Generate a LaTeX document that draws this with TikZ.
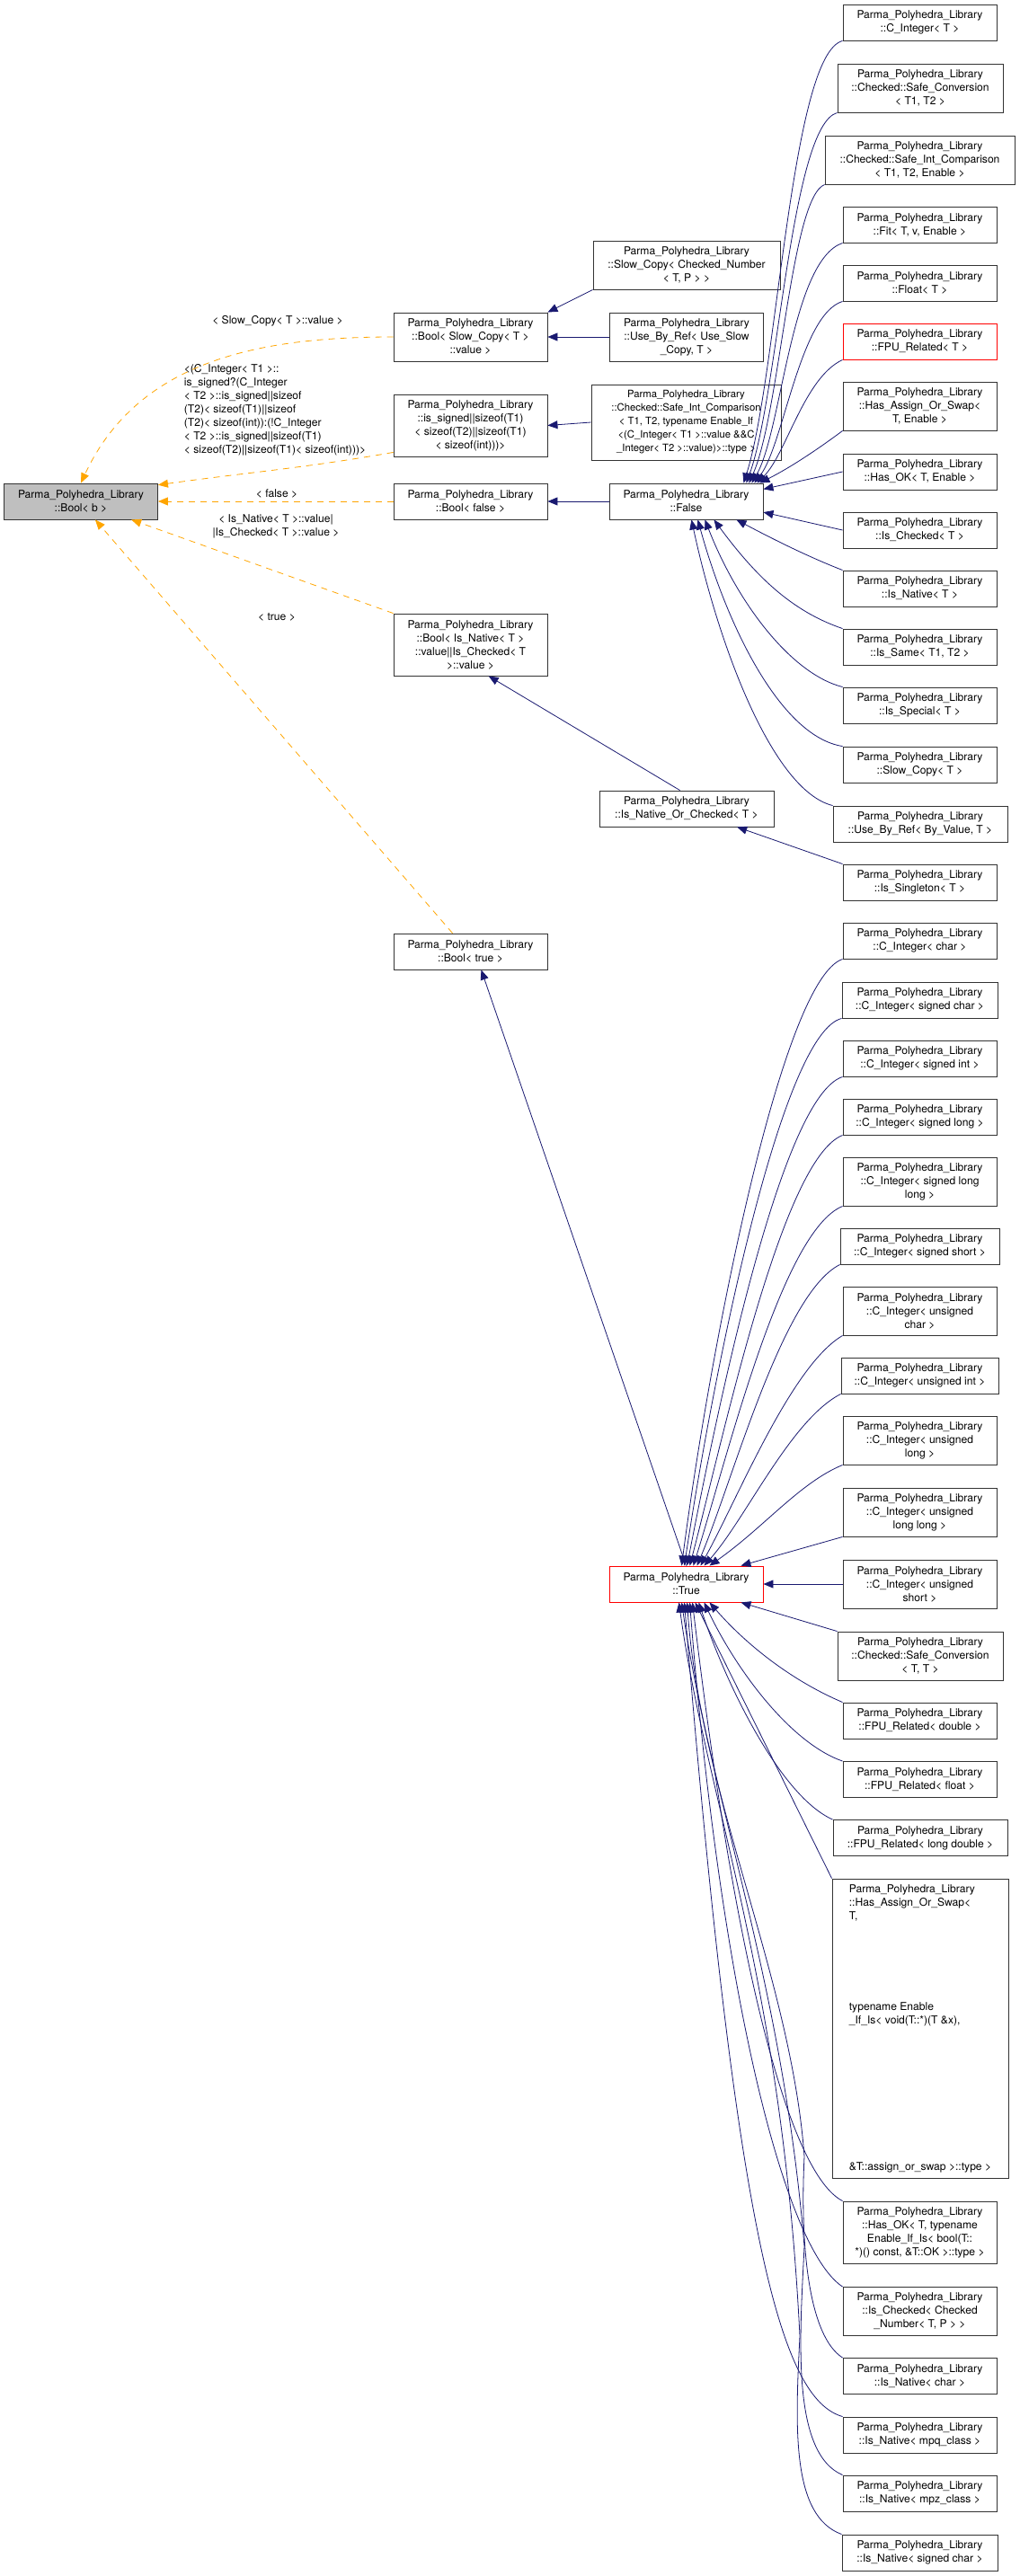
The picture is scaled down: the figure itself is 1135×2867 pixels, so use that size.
\documentclass[tikz,border=0pt]{standalone}
\usepackage{fontspec}
\setmainfont{TeX Gyre Heros}
\usetikzlibrary{arrows.meta}
\definecolor{edgeblue}{HTML}{191970}
\definecolor{edgeorange}{HTML}{FFA500}
\definecolor{boxgray}{HTML}{BFBFBF}
\tikzset{
  cls/.style={draw=black!80, line width=0.9pt, align=center, inner sep=0pt,
    minimum width=171pt, minimum height=40pt, font=\fontsize{12.1}{15}\selectfont},
  lbl/.style={align=center, inner sep=0pt, font=\fontsize{12.1}{15}\selectfont},
  inh/.style={draw=edgeblue, line width=0.8pt, -{Triangle[length=11pt,width=9pt]}},
  dep/.style={draw=edgeorange, line width=0.8pt, dashed, dash pattern=on 7pt off 6pt,
    -{Triangle[length=11pt,width=9pt]}}
}
\begin{document}
\begin{tikzpicture}[x=1pt,y=-1pt]
\useasboundingbox (0,0) rectangle (1135,2867);

\node[cls, fill=boxgray] (boolb) at (90,558) {Parma\_Polyhedra\_Library\\::Bool< b >};

\node[cls, minimum height=54pt] (boolslow) at (523.5,375) {Parma\_Polyhedra\_Library\\::Bool< Slow\_Copy< T >\\::value >};
\node[cls, minimum height=69pt] (boolsigned) at (523.5,473.5) {Parma\_Polyhedra\_Library\\::is\_signed||sizeof(T1)\\< sizeof(T2)||sizeof(T1)\\< sizeof(int)))>};
\node[cls] (boolfalse) at (523.5,558) {Parma\_Polyhedra\_Library\\::Bool< false >};
\node[cls, minimum height=69pt] (boolnative) at (523.5,717.5) {Parma\_Polyhedra\_Library\\::Bool< Is\_Native< T >\\::value||Is\_Checked< T\\>::value >};
\node[cls] (booltrue) at (523.5,1059) {Parma\_Polyhedra\_Library\\::Bool< true >};

\node[cls, minimum width=208pt, minimum height=54pt] (slowcn) at (764,295) {Parma\_Polyhedra\_Library\\::Slow\_Copy< Checked\_Number\\< T, P > >};
\node[cls, minimum height=54pt] (ubrslow) at (764,375) {Parma\_Polyhedra\_Library\\::Use\_By\_Ref< Use\_Slow\\\_Copy, T >};
\node[cls, minimum width=211pt, minimum height=84pt, font=\fontsize{11.3}{15}\selectfont] (safeint) at (763.5,470) {Parma\_Polyhedra\_Library\\::Checked::Safe\_Int\_Comparison\\< T1, T2, typename Enable\_If\\<(C\_Integer< T1 >::value \&\&C\\\_Integer< T2 >::value)>::type >};
\node[cls] (nfalse) at (763.5,558) {Parma\_Polyhedra\_Library\\::False};
\node[cls, minimum width=194pt] (nativeorchecked) at (764,900) {Parma\_Polyhedra\_Library\\::Is\_Native\_Or\_Checked< T >};
\node[cls, draw=red] (ntrue) at (763.5,1763) {Parma\_Polyhedra\_Library\\::True};

% subclasses of False
\node[cls] (cint) at (1023.5,25) {Parma\_Polyhedra\_Library\\::C\_Integer< T >};
\node[cls, minimum width=184pt, minimum height=54pt] (safeconv) at (1024,98) {Parma\_Polyhedra\_Library\\::Checked::Safe\_Conversion\\< T1, T2 >};
\node[cls, minimum width=211pt, minimum height=54pt] (safeintcmp) at (1023.5,178) {Parma\_Polyhedra\_Library\\::Checked::Safe\_Int\_Comparison\\< T1, T2, Enable >};
\node[cls] (fit) at (1023.5,250) {Parma\_Polyhedra\_Library\\::Fit< T, v, Enable >};
\node[cls] (float) at (1023.5,315) {Parma\_Polyhedra\_Library\\::Float< T >};
\node[cls, draw=red] (fpu) at (1023.5,380) {Parma\_Polyhedra\_Library\\::FPU\_Related< T >};
\node[cls, minimum height=54pt] (hasassign) at (1023.5,452) {Parma\_Polyhedra\_Library\\::Has\_Assign\_Or\_Swap<\\T, Enable >};
\node[cls] (hasok) at (1023.5,525) {Parma\_Polyhedra\_Library\\::Has\_OK< T, Enable >};
\node[cls] (ischecked) at (1023.5,590) {Parma\_Polyhedra\_Library\\::Is\_Checked< T >};
\node[cls] (isnative) at (1023.5,655) {Parma\_Polyhedra\_Library\\::Is\_Native< T >};
\node[cls] (issame) at (1023.5,720) {Parma\_Polyhedra\_Library\\::Is\_Same< T1, T2 >};
\node[cls] (isspecial) at (1023.5,785) {Parma\_Polyhedra\_Library\\::Is\_Special< T >};
\node[cls] (slowcopy) at (1023.5,851) {Parma\_Polyhedra\_Library\\::Slow\_Copy< T >};
\node[cls, minimum width=194pt] (ubrvalue) at (1024,917) {Parma\_Polyhedra\_Library\\::Use\_By\_Ref< By\_Value, T >};
\node[cls] (singleton) at (1023.5,982) {Parma\_Polyhedra\_Library\\::Is\_Singleton< T >};

% subclasses of True
\node[cls] (cichar) at (1023.5,1047) {Parma\_Polyhedra\_Library\\::C\_Integer< char >};
\node[cls, minimum width=173pt] (cischar) at (1023.5,1113) {Parma\_Polyhedra\_Library\\::C\_Integer< signed char >};
\node[cls] (ciint) at (1023.5,1178) {Parma\_Polyhedra\_Library\\::C\_Integer< signed int >};
\node[cls] (cilong) at (1023.5,1243) {Parma\_Polyhedra\_Library\\::C\_Integer< signed long >};
\node[cls, minimum height=54pt] (cilonglong) at (1023.5,1315) {Parma\_Polyhedra\_Library\\::C\_Integer< signed long\\long >};
\node[cls, minimum width=177pt] (cishort) at (1023.5,1387) {Parma\_Polyhedra\_Library\\::C\_Integer< signed short >};
\node[cls, minimum height=54pt] (cuchar) at (1023.5,1459) {Parma\_Polyhedra\_Library\\::C\_Integer< unsigned\\char >};
\node[cls, minimum width=175pt] (cuint) at (1023.5,1531) {Parma\_Polyhedra\_Library\\::C\_Integer< unsigned int >};
\node[cls, minimum height=54pt] (culong) at (1023.5,1603) {Parma\_Polyhedra\_Library\\::C\_Integer< unsigned\\long >};
\node[cls, minimum height=54pt] (culonglong) at (1023.5,1683) {Parma\_Polyhedra\_Library\\::C\_Integer< unsigned\\long long >};
\node[cls, minimum height=54pt] (cushort) at (1023.5,1763) {Parma\_Polyhedra\_Library\\::C\_Integer< unsigned\\short >};
\node[cls, minimum width=184pt, minimum height=54pt] (safeconvtt) at (1024,1843) {Parma\_Polyhedra\_Library\\::Checked::Safe\_Conversion\\< T, T >};
\node[cls] (fpudouble) at (1023.5,1915) {Parma\_Polyhedra\_Library\\::FPU\_Related< double >};
\node[cls] (fpufloat) at (1023.5,1980.5) {Parma\_Polyhedra\_Library\\::FPU\_Related< float >};
\node[cls, minimum width=194pt] (fpuldouble) at (1024,2045.5) {Parma\_Polyhedra\_Library\\::FPU\_Related< long double >};
\node[cls, minimum width=196pt, minimum height=333pt, align=left] (hasassignif) at (1024,2257.5)
  {Parma\_Polyhedra\_Library\\::Has\_Assign\_Or\_Swap<\\ T,\\[86pt] typename Enable\\\_If\_Is< void(T::*)(T \&x),\\[148pt] \&T::assign\_or\_swap >::type >};
\node[cls, minimum height=69pt] (hasokif) at (1023.5,2484.5) {Parma\_Polyhedra\_Library\\::Has\_OK< T, typename\\Enable\_If\_Is< bool(T::\\*)() const, \&T::OK >::type >};
\node[cls, minimum height=54pt] (checkednum) at (1023.5,2572.5) {Parma\_Polyhedra\_Library\\::Is\_Checked< Checked\\\_Number< T, P > >};
\node[cls] (nchar) at (1023.5,2644.5) {Parma\_Polyhedra\_Library\\::Is\_Native< char >};
\node[cls] (nmpq) at (1023.5,2710) {Parma\_Polyhedra\_Library\\::Is\_Native< mpq\_class >};
\node[cls] (nmpz) at (1023.5,2775) {Parma\_Polyhedra\_Library\\::Is\_Native< mpz\_class >};
\node[cls, minimum width=173pt] (nschar) at (1023.5,2841) {Parma\_Polyhedra\_Library\\::Is\_Native< signed char >};

% template instances of Bool<b>
\node[lbl] (lslow) at (309,357) {< Slow\_Copy< T >::value >};
\node[lbl, align=left] (lsigned) at (306,456) {<(C\_Integer< T1 >::\\is\_signed?(C\_Integer\\< T2 >::is\_signed||sizeof\\(T2)< sizeof(T1)||sizeof\\(T2)< sizeof(int)):(!C\_Integer\\< T2 >::is\_signed||sizeof(T1)\\< sizeof(T2)||sizeof(T1)< sizeof(int)))>};
\node[lbl] (lfalse) at (308,549) {< false >};
\node[lbl] (lnative) at (307,586) {< Is\_Native< T >::value|\\|Is\_Checked< T >::value >};
\node[lbl] (ltrue) at (308,687) {< true >};

\draw[dep] (boolslow.west) to[out=180,in=65] (boolb.north);
\draw[dep] ([yshift=5pt]boolsigned.south west) to[out=190,in=8] (boolb.12);
\draw[dep] (boolfalse) -- (boolb);
\draw[dep] (boolnative.north west) -- (boolb.-20);
\draw[dep] ([xshift=-20pt]booltrue.north) -- (boolb.-52);

\draw[inh] (slowcn.south west) -- (boolslow.north east);
\draw[inh] (ubrslow) -- (boolslow);
\draw[inh] (safeint.west) -- (boolsigned.east);
\draw[inh] (nfalse) -- (boolfalse);
\draw[inh] (nativeorchecked.110) -- (boolnative.-60);
\draw[inh] (singleton.north west) -- (nativeorchecked.-20);
\draw[inh] (ntrue.north) -- ([xshift=12pt]booltrue.south);

\draw[inh] (cint.south west) .. controls (880,60) and (865,420) .. ([xshift=-22pt]nfalse.north east);
\draw[inh] (safeconv.south west) .. controls (880,140) and (866,440) .. ([xshift=-19pt]nfalse.north east);
\draw[inh] (safeintcmp.south west) .. controls (880,220) and (868,460) .. ([xshift=-16pt]nfalse.north east);
\draw[inh] (fit.south west) .. controls (880,290) and (870,480) .. ([xshift=-13pt]nfalse.north east);
\draw[inh] (float.south west) .. controls (890,350) and (872,495) .. ([xshift=-10pt]nfalse.north east);
\draw[inh] (fpu.south west) .. controls (895,420) and (875,505) .. ([xshift=-7pt]nfalse.north east);
\draw[inh] (hasassign.south west) .. controls (910,500) and (880,520) .. ([xshift=-4pt]nfalse.north east);
\draw[inh] (hasok.west) -- (nfalse.9);
\draw[inh] (ischecked.west) -- (nfalse.-8);
\draw[inh] (isnative.north west) .. controls (900,620) and (860,600) .. ([xshift=-30pt]nfalse.south east);
\draw[inh] (issame.north west) .. controls (880,680) and (840,640) .. ([xshift=-55pt]nfalse.south east);
\draw[inh] (isspecial.north west) .. controls (880,750) and (820,670) .. ([xshift=-65pt]nfalse.south east);
\draw[inh] (slowcopy.north west) .. controls (870,820) and (810,700) .. ([xshift=-73pt]nfalse.south east);
\draw[inh] (ubrvalue.north west) .. controls (860,880) and (800,720) .. ([xshift=-80pt]nfalse.south east);

\draw[inh] (cichar.south west) .. controls (870,1090) and (790,1500) .. ([xshift=-5pt]ntrue.north);
\draw[inh] (cischar.south west) .. controls (870,1150) and (795,1520) .. ([xshift=-2pt]ntrue.north);
\draw[inh] (ciint.south west) .. controls (870,1220) and (800,1560) .. ([xshift=1pt]ntrue.north);
\draw[inh] (cilong.south west) .. controls (870,1290) and (805,1600) .. ([xshift=4pt]ntrue.north);
\draw[inh] (cilonglong.south west) .. controls (870,1370) and (810,1620) .. ([xshift=8pt]ntrue.north);
\draw[inh] (cishort.south west) .. controls (870,1440) and (815,1650) .. ([xshift=12pt]ntrue.north);
\draw[inh] (cuchar.south west) .. controls (880,1520) and (820,1670) .. ([xshift=16pt]ntrue.north);
\draw[inh] (cuint.south west) .. controls (880,1580) and (830,1690) .. ([xshift=20pt]ntrue.north);
\draw[inh] (culong.south west) .. controls (890,1650) and (850,1700) .. ([xshift=26pt]ntrue.north);
\draw[inh] (culonglong.south west) -- ([xshift=-25pt]ntrue.north east);
\draw[inh] (cushort.west) -- (ntrue.east);
\draw[inh] (safeconvtt.north west) -- ([xshift=-25pt]ntrue.south east);
\draw[inh] (fpudouble.north west) .. controls (880,1870) and (830,1830) .. ([xshift=26pt]ntrue.south);
\draw[inh] (fpufloat.north west) .. controls (880,1940) and (820,1860) .. ([xshift=20pt]ntrue.south);
\draw[inh] (fpuldouble.north west) .. controls (870,2000) and (810,1880) .. ([xshift=14pt]ntrue.south);
\draw[inh] (hasassignif.north west) -- ([xshift=10pt]ntrue.south);
\draw[inh] (hasokif.north west) .. controls (880,2420) and (820,2200) .. ([xshift=7pt]ntrue.south);
\draw[inh] (checkednum.north west) .. controls (870,2500) and (800,2200) .. ([xshift=4pt]ntrue.south);
\draw[inh] (nchar.north west) .. controls (900,2600) and (890,2500) .. (895,2400) .. controls (880,2200) and (780,2000) .. ([xshift=1pt]ntrue.south);
\draw[inh] (nmpq.north west) .. controls (870,2670) and (820,2500) .. ([xshift=-2pt]ntrue.south);
\draw[inh] (nmpz.north west) .. controls (880,2730) and (890,2600) .. (895,2500) .. controls (870,2200) and (790,2000) .. ([xshift=-5pt]ntrue.south);
\draw[inh] (nschar.north west) .. controls (880,2800) and (885,2700) .. (890,2600) .. controls (870,2200) and (785,2000) .. ([xshift=-8pt]ntrue.south);
\end{tikzpicture}
\end{document}
